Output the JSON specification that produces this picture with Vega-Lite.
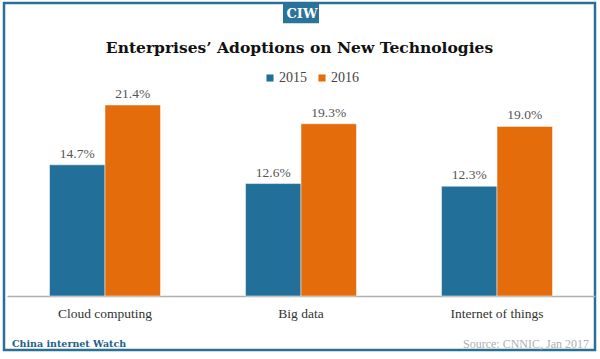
{
  "$schema": "https://vega.github.io/schema/vega-lite/v6.json",
  "width": 591,
  "height": 347,
  "padding": {"left": 4, "top": 3, "right": 5, "bottom": 9},
  "autosize": {"type": "none"},
  "background": "white",
  "view": {"stroke": "#2a6f95", "strokeWidth": 2.5},
  "config": {"font": "Liberation Serif, Times New Roman, serif"},
  "title": {
    "text": "Enterprises’ Adoptions on New Technologies",
    "offset": -53,
    "font": "DejaVu Serif",
    "fontSize": 15.5,
    "fontWeight": "bold",
    "color": "#111111",
    "anchor": "middle"
  },
  "data": {
    "values": [
      {"category": "Cloud computing", "year": "2015", "value": 14.7},
      {"category": "Cloud computing", "year": "2016", "value": 21.4},
      {"category": "Big data", "year": "2015", "value": 12.6},
      {"category": "Big data", "year": "2016", "value": 19.3},
      {"category": "Internet of things", "year": "2015", "value": 12.3},
      {"category": "Internet of things", "year": "2016", "value": 19.0}
    ]
  },
  "encoding": {
    "x": {
      "field": "category",
      "type": "nominal",
      "sort": ["Cloud computing", "Big data", "Internet of things"],
      "scale": {"range": [3, 591], "paddingInner": 0, "paddingOuter": 0},
      "axis": {
        "title": null,
        "offset": -54,
        "ticks": false,
        "domainColor": "#b0b0b0",
        "domainWidth": 1.5,
        "labelFont": "Liberation Serif, Times New Roman, serif",
        "labelFontSize": 13.5,
        "labelColor": "#333333",
        "labelPadding": 10,
        "labelAngle": 0
      }
    }
  },
  "layer": [
    {
      "mark": {"type": "bar", "stroke": "white", "strokeWidth": 0.5},
      "encoding": {
        "xOffset": {"field": "year", "type": "nominal", "scale": {"paddingOuter": 0.766, "paddingInner": 0}},
        "y": {"field": "value", "type": "quantitative", "scale": {"domain": [-6.05, 32.83], "nice": false, "zero": false}, "axis": null},
        "y2": {"datum": 0},
        "color": {
          "field": "year",
          "type": "nominal",
          "scale": {"domain": ["2015", "2016"], "range": ["#22709a", "#e46c0a"]},
          "legend": {
            "title": null,
            "orient": "none",
            "legendX": 259,
            "legendY": 68,
            "direction": "horizontal",
            "symbolType": "square",
            "symbolSize": 50,
            "symbolStrokeWidth": 0,
            "labelFont": "Liberation Serif, Times New Roman, serif",
            "labelFontSize": 14,
            "labelColor": "#444444",
            "columnPadding": 8,
            "labelOffset": 2
          }
        }
      }
    },
    {
      "transform": [{"calculate": "format(datum.value, '.1f') + '%'", "as": "label"}],
      "mark": {"type": "text", "baseline": "bottom", "dy": -4, "fontSize": 13.5, "font": "Liberation Serif, Times New Roman, serif"},
      "encoding": {
        "xOffset": {"field": "year", "type": "nominal", "scale": {"paddingOuter": 0.766, "paddingInner": 0}},
        "y": {"field": "value", "type": "quantitative"},
        "text": {"field": "label", "type": "nominal"},
        "color": {"value": "#555555"}
      }
    },
    {
      "data": {"values": [{"category": "Big data", "badge": "CIW"}]},
      "mark": {"type": "bar", "width": 36, "color": "#2a7399"},
      "encoding": {
        "y": {"datum": 32.8},
        "y2": {"datum": 30.55}
      }
    },
    {
      "data": {"values": [{"category": "Big data", "badge": "CIW"}]},
      "mark": {"type": "text", "font": "DejaVu Serif", "fontWeight": "bold", "fontSize": 13, "color": "white", "baseline": "middle", "dx": 1},
      "encoding": {
        "y": {"datum": 31.65},
        "text": {"field": "badge"}
      }
    },
    {
      "data": {"values": [{"category": "Cloud computing", "note": "China internet Watch"}]},
      "mark": {"type": "text", "font": "DejaVu Serif", "fontWeight": "bold", "fontSize": 9.5, "color": "#1f5f8b", "align": "left", "baseline": "middle", "dx": 5},
      "encoding": {
        "x": {"field": "category", "type": "nominal", "bandPosition": 0},
        "y": {"datum": -5.4},
        "text": {"field": "note"}
      }
    },
    {
      "data": {"values": [{"category": "Internet of things", "note": "Source: CNNIC, Jan 2017"}]},
      "mark": {"type": "text", "font": "Liberation Serif, Times New Roman, serif", "fontSize": 12, "color": "#b0b0b0", "align": "right", "baseline": "middle", "dx": -6},
      "encoding": {
        "x": {"field": "category", "type": "nominal", "bandPosition": 1},
        "y": {"datum": -5.4},
        "text": {"field": "note"}
      }
    }
  ]
}
